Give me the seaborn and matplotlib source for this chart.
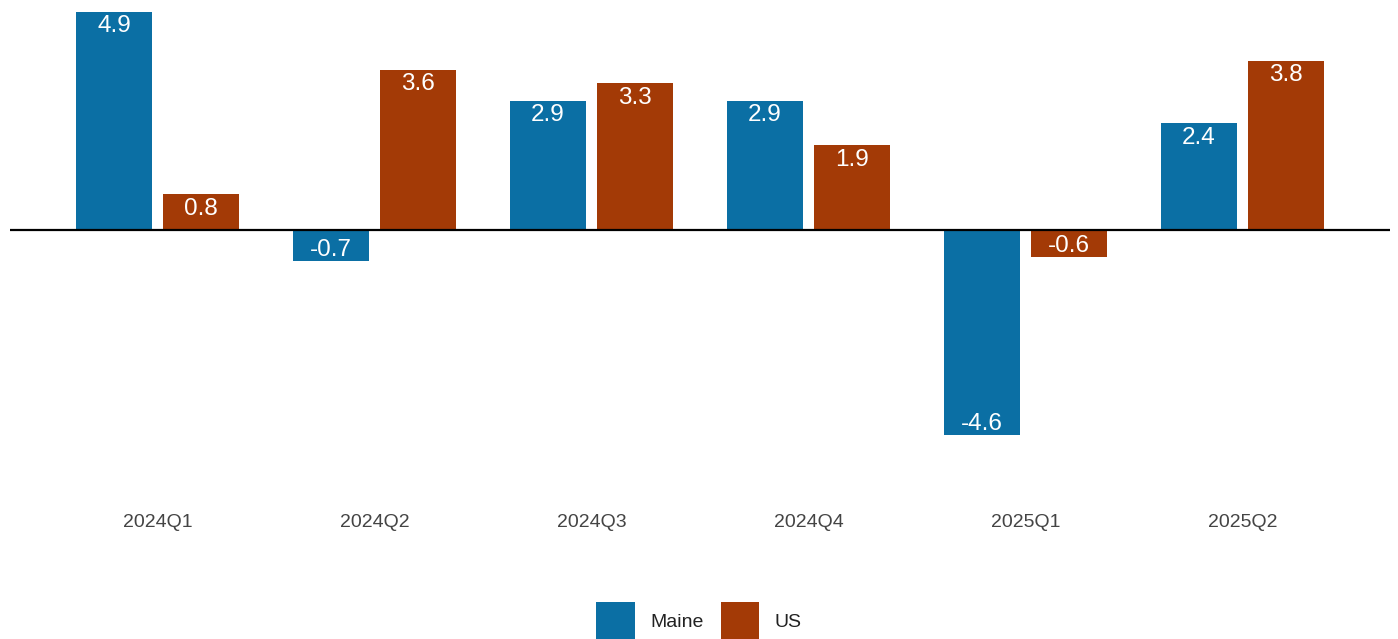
import matplotlib
matplotlib.use("Agg")
import matplotlib.pyplot as plt
import seaborn as sns
import pandas as pd
from matplotlib.patches import Patch

quarters = ["2024Q1", "2024Q2", "2024Q3", "2024Q4", "2025Q1", "2025Q2"]
maine = [4.9, -0.7, 2.9, 2.9, -4.6, 2.4]
us = [0.8, 3.6, 3.3, 1.9, -0.6, 3.8]
series = ["Maine", "US"]
colors = {"Maine": "#0B6FA4", "US": "#A33A06"}

df = pd.DataFrame({
    "quarter": quarters * 2,
    "value": maine + us,
    "series": [series[0]] * len(quarters) + [series[1]] * len(quarters),
})

sns.set_theme(style="white")
plt.rcParams["font.family"] = ["Liberation Sans", "DejaVu Sans"]

fig = plt.figure(figsize=(13.98, 6.39), dpi=100)
ax = fig.add_axes([10 / 1398, 1 - 490 / 639, 1380 / 1398, 482 / 639])

sns.barplot(data=df, x="quarter", y="value", hue="series", order=quarters,
            hue_order=series, palette=colors, width=0.8, gap=0.125,
            saturation=1, linewidth=0, ax=ax, legend=False)

ax.axhline(0, color="black", lw=1.6, zorder=5)
ax.set_xlim(-0.68, 5.68)
ax.set_ylim(-(490 - 230) / 44.5, (230 - 8) / 44.5)

for cont in ax.containers:
    for bar in cont:
        h = bar.get_height()
        x = bar.get_x() + bar.get_width() / 2
        if h >= 0:
            ax.annotate(f"{h:.1f}", (x, h), xytext=(0, -2.5), textcoords="offset points",
                        ha="center", va="top", color="white", fontsize=17.5)
        else:
            ax.annotate(f"{h:.1f}", (x, h), xytext=(0, 0), textcoords="offset points",
                        ha="center", va="bottom", color="white", fontsize=17.5)

ax.set_xlabel("")
ax.set_ylabel("")
ax.set_yticks([])
ax.tick_params(axis="x", length=0, pad=17, labelsize=14, labelcolor="#444444")
for s in ax.spines.values():
    s.set_visible(False)

handles = [Patch(facecolor=colors[s], edgecolor="none", label=s) for s in series]
fig.legend(handles=handles, loc="center", bbox_to_anchor=(0.5, 1 - 621 / 639),
           ncol=2, frameon=False, fontsize=14, handlelength=1.96, handleheight=2.63,
           columnspacing=0.9, handletextpad=0.8, labelcolor="#222222",
           borderpad=0, borderaxespad=0)

fig.savefig("out.png", dpi=100)
